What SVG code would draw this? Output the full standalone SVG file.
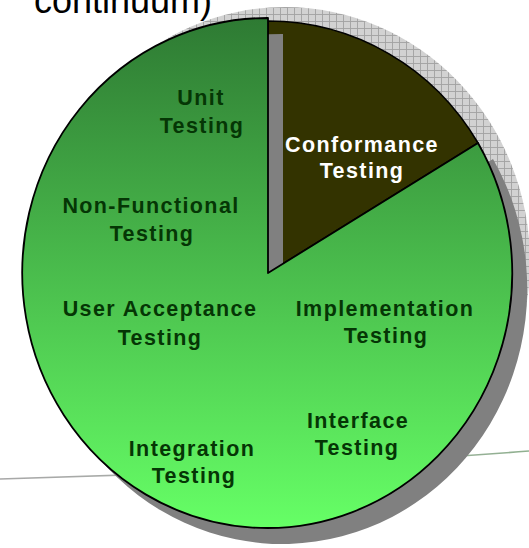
<svg xmlns="http://www.w3.org/2000/svg" width="529" height="548" viewBox="0 0 529 548">
<defs>
<linearGradient id="gGreen" gradientUnits="userSpaceOnUse" x1="0" y1="18" x2="0" y2="528">
<stop offset="0" stop-color="#2e7a33"/>
<stop offset="1" stop-color="#66ff66"/>
</linearGradient>
<linearGradient id="gLine" gradientUnits="userSpaceOnUse" x1="0" y1="0" x2="529" y2="0">
<stop offset="0" stop-color="#a8a8a8"/>
<stop offset="0.6" stop-color="#a8b0a8"/>
<stop offset="1" stop-color="#8fb08f"/>
</linearGradient>
<pattern id="hatch" patternUnits="userSpaceOnUse" width="7" height="7">
<rect width="7" height="7" fill="#d2d2d2"/>
<path d="M0,0.5H7M0.5,0V7" stroke="#a2a2a2" stroke-width="0.9"/>
</pattern>
<style>
.lbl{font-family:"Liberation Sans",Arial,sans-serif;font-weight:bold;font-size:21.5px;letter-spacing:1.4px;fill:#053605;text-anchor:middle}
.lbl.w{fill:#ffffff}
.title{font-family:"Liberation Sans",Arial,sans-serif;font-size:36px;fill:#000000}
</style>
</defs>
<rect width="529" height="548" fill="#ffffff"/>
<text class="title" x="34" y="13">continuum)</text>
<g id="connectors">
<path d="M0,479 Q265,472 529,451" fill="none" stroke="url(#gLine)" stroke-width="1.6"/>
</g>
<g id="pie-backdrop">
<ellipse cx="285" cy="262" rx="245" ry="255" fill="url(#hatch)"/>
</g>
<g id="conformance-slice">
<path d="M268,273 L268,21 A245,252 0 0,1 478,143 Z" fill="#333300" stroke="#000000" stroke-width="1.6" stroke-linejoin="round"/>
</g>
<g id="green-shadow">
<path d="M283,289 L493,159 A245,255 0 1,1 283,34 Z" fill="#808080"/>
</g>
<g id="green-slice">
<path d="M268,273 L478,143 A245,255 0 1,1 268,18 Z" fill="url(#gGreen)" stroke="#000000" stroke-width="1.8" stroke-linejoin="round"/>
</g>
<g id="n-unit"><text class="lbl" x="201" y="105">Unit</text><text class="lbl" x="202" y="133">Testing</text></g>
<g id="n-nonfunctional"><text class="lbl" x="151" y="213">Non-Functional</text><text class="lbl" x="152" y="241">Testing</text></g>
<g id="n-useracceptance"><text class="lbl" x="160" y="316">User Acceptance</text><text class="lbl" x="160" y="345">Testing</text></g>
<g id="n-implementation"><text class="lbl" x="385" y="316">Implementation</text><text class="lbl" x="386" y="343">Testing</text></g>
<g id="n-conformance"><text class="lbl w" x="362" y="152">Conformance</text><text class="lbl w" x="362" y="178">Testing</text></g>
<g id="n-interface"><text class="lbl" x="358" y="428">Interface</text><text class="lbl" x="357" y="455">Testing</text></g>
<g id="n-integration"><text class="lbl" x="192" y="456">Integration</text><text class="lbl" x="194" y="483">Testing</text></g>
</svg>
